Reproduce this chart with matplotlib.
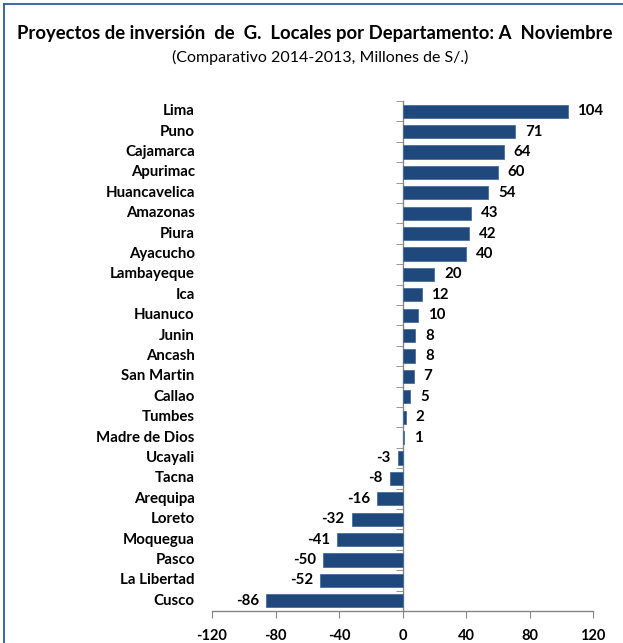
import matplotlib
matplotlib.use("Agg")
import matplotlib.pyplot as plt
from matplotlib.lines import Line2D
import numpy as np

departamentos = ["Lima", "Puno", "Cajamarca", "Apurimac", "Huancavelica", "Amazonas",
                 "Piura", "Ayacucho", "Lambayeque", "Ica", "Huanuco", "Junin", "Ancash",
                 "San Martin", "Callao", "Tumbes", "Madre de Dios", "Ucayali", "Tacna",
                 "Arequipa", "Loreto", "Moquegua", "Pasco", "La Libertad", "Cusco"]
variacion = [104, 71, 64, 60, 54, 43, 42, 40, 20, 12, 10, 8, 8, 7, 5, 2, 1,
             -3, -8, -16, -32, -41, -50, -52, -86]
x_ticks = [-120, -80, -40, 0, 40, 80, 120]

plt.rcParams["font.family"] = ["Lato", "DejaVu Sans"]

W, H = 623, 643
fig = plt.figure(figsize=(W / 100, H / 100), dpi=100)
fig.patch.set_facecolor("white")

# frame around the figure
frame_color = "#2E5A9C"
fig.add_artist(Line2D([4 / W, 4 / W], [0, 1 - 4 / H], color=frame_color, lw=1.3,
                      transform=fig.transFigure))
fig.add_artist(Line2D([4 / W, 1], [1 - 4 / H, 1 - 4 / H], color=frame_color, lw=1.3,
                      transform=fig.transFigure))

ax = fig.add_axes([212 / W, 1 - 611 / H, 381 / W, 510 / H])

n = len(departamentos)
y = np.arange(n)
bar_color = "#1F497D"
ax.barh(y, variacion, height=0.65, color=bar_color, edgecolor="#4A6E9C", linewidth=0.6,
        zorder=3)

ax.set_xlim(-120, 120)
ax.set_ylim(n - 0.5, -0.5)
ax.set_xticks(x_ticks)
ax.set_xticklabels([str(v) for v in x_ticks], fontweight="bold", fontsize=10.5)
ax.tick_params(axis="x", direction="out", length=5, color="#868686", pad=8)

ax.spines["top"].set_visible(False)
ax.spines["right"].set_visible(False)
ax.spines["left"].set_position(("data", 0))
for s in ("left", "bottom"):
    ax.spines[s].set_color("#868686")
    ax.spines[s].set_linewidth(1.0)

ax.set_yticks([])
ax.set_yticks(np.arange(-0.5, n, 1.0), minor=True)
ax.tick_params(axis="y", which="minor", direction="out", length=5, color="#868686",
               labelleft=False)

trans = ax.get_yaxis_transform()
for yi, name in zip(y, departamentos):
    ax.text(-0.045, yi, name, transform=trans, ha="right", va="center",
            fontweight="bold", fontsize=10.8)

for yi, v in zip(y, variacion):
    if v >= 0:
        ax.annotate(str(v), (v, yi), xytext=(7, 0), textcoords="offset points",
                    ha="left", va="center", fontweight="bold", fontsize=10.8)
    else:
        ax.annotate(str(v), (v, yi), xytext=(-5, 0), textcoords="offset points",
                    ha="right", va="center", fontweight="bold", fontsize=10.8)

fig.text(315 / W, 1 - 34 / H,
         "Proyectos de inversión  de  G.  Locales por Departamento: A  Noviembre",
         ha="center", va="center", fontweight="bold", fontsize=13.3)
fig.text(320 / W, 1 - 57 / H, "(Comparativo 2014-2013, Millones de S/.)",
         ha="center", va="center", fontsize=11.5)

fig.savefig("out.png", dpi=100)
